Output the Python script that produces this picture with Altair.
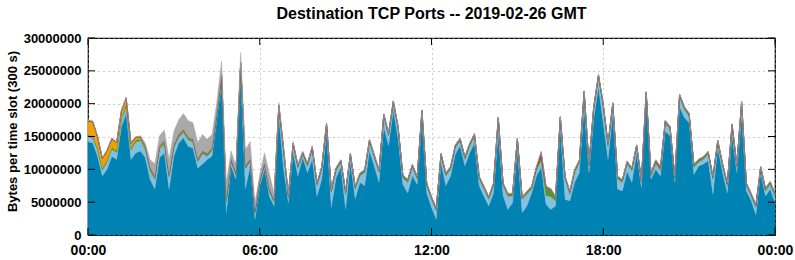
import json
import altair as alt
import pandas as pd

# Values in millions of bytes, one sample every 10 minutes (00:00 .. 24:00)
total = [
    17.5, 17.4, 15.1, 11.8, 13.0, 14.8, 14.2, 19.0, 21.0, 14.1, 15.0, 15.1,
    14.0, 11.5, 10.8, 15.1, 16.0, 11.5, 15.8, 17.5, 18.5, 17.4, 17.1, 14.1,
    15.3, 14.6, 15.3, 20.2, 26.5, 8.0, 12.8, 10.5, 27.8, 13.0, 14.2, 4.9,
    9.2, 12.5, 9.4, 6.4, 20.2, 13.6, 6.4, 14.3, 10.8, 12.8, 11.0, 13.6,
    8.0, 10.5, 17.1, 7.0, 10.3, 11.5, 6.7, 12.5, 7.5, 9.5, 10.0, 14.6,
    12.3, 10.0, 18.5, 15.6, 20.5, 16.6, 9.2, 8.5, 10.8, 9.0, 19.1, 8.0,
    5.9, 4.2, 12.5, 9.5, 10.5, 13.8, 14.8, 12.0, 14.0, 15.5, 9.0, 7.5,
    5.9, 8.0, 18.0, 8.0, 6.4, 6.4, 14.8, 5.9, 6.7, 7.5, 10.5, 12.8,
    7.5, 7.1, 5.9, 18.1, 9.0, 6.7, 10.0, 11.5, 22.0, 11.0, 19.6, 24.5,
    20.0, 14.0, 20.2, 9.0, 8.5, 11.3, 10.3, 13.8, 8.5, 21.9, 9.5, 11.5,
    10.5, 17.5, 16.6, 9.0, 21.5, 19.6, 18.6, 10.8, 11.6, 12.0, 12.8, 9.0,
    14.5, 11.0, 8.0, 17.0, 10.8, 20.4, 8.0, 6.4, 4.7, 10.5, 7.2, 8.2,
    6.4,
]
base = [
    14.2, 14.0, 12.0, 9.0, 10.0, 12.0, 11.5, 16.5, 18.5, 11.5, 12.5, 12.8,
    11.8, 8.5, 7.0, 11.8, 12.5, 7.0, 12.0, 14.0, 14.8, 13.5, 13.2, 10.2,
    10.8, 11.5, 12.0, 17.6, 23.0, 3.4, 10.5, 8.5, 24.2, 7.0, 10.5, 2.4,
    7.5, 10.0, 5.9, 4.4, 18.1, 10.0, 4.9, 12.5, 9.0, 11.8, 9.5, 11.5,
    5.9, 8.5, 15.6, 4.2, 8.7, 10.3, 3.9, 11.0, 5.5, 8.0, 7.5, 12.8,
    10.5, 8.0, 16.5, 13.6, 19.0, 14.6, 7.7, 6.4, 9.0, 7.7, 17.4, 6.4,
    4.2, 2.4, 11.0, 7.5, 9.0, 12.3, 13.6, 10.5, 12.5, 14.0, 7.5, 5.9,
    4.4, 6.4, 15.5, 6.0, 3.9, 4.9, 13.0, 3.4, 4.4, 6.4, 9.0, 10.3,
    4.7, 3.9, 4.4, 16.3, 5.4, 5.2, 8.0, 9.5, 19.5, 9.5, 17.6, 22.5,
    17.0, 11.5, 18.4, 7.0, 6.7, 9.7, 8.0, 12.5, 7.2, 20.2, 8.5, 10.0,
    9.0, 15.8, 15.1, 8.0, 19.5, 17.9, 17.1, 9.2, 10.5, 10.8, 11.3, 6.2,
    13.3, 9.5, 6.4, 15.2, 9.5, 18.0, 6.7, 5.2, 3.1, 9.5, 5.9, 7.0,
    4.9,
]
gray = [
    0.1, 0.1, 0.1, 0.1, 0.1, 0.1, 0.1, 0.1, 0.1, 0.1, 0.1, 0.1,
    0.4, 1.2, 1.8, 1.5, 1.7, 2.2, 2.0, 2.2, 2.4, 2.5, 2.5, 2.5,
    2.5, 2.2, 2.0, 1.6, 2.0, 2.5, 1.2, 1.0, 1.5, 2.5, 2.6, 1.2,
    0.8, 1.5, 2.4, 1.0, 0.4, 0.5, 0.3, 0.3, 0.2, 0.15, 0.15, 0.15,
    0.1, 0.1, 0.1, 0.1, 0.1, 0.1, 0.1, 0.1, 0.1, 0.1, 0.1, 0.1,
    0.1, 0.1, 0.1, 0.1, 0.1, 0.1, 0.1, 0.1, 0.1, 0.1, 0.1, 0.1,
    0.1, 0.1, 0.1, 0.1, 0.1, 0.1, 0.1, 0.1, 0.1, 0.1, 0.1, 0.1,
    0.1, 0.1, 0.1, 0.1, 0.1, 0.1, 0.1, 0.1, 0.1, 0.1, 0.1, 0.15,
    0.1, 0.1, 0.1, 0.1, 0.1, 0.1, 0.1, 0.1, 0.1, 0.1, 0.1, 0.1,
    0.1, 0.1, 0.1, 0.1, 0.1, 0.1, 0.1, 0.1, 0.1, 0.1, 0.1, 0.1,
    0.1, 0.1, 0.1, 0.1, 0.1, 0.1, 0.1, 0.1, 0.1, 0.1, 0.1, 0.1,
    0.1, 0.1, 0.1, 0.1, 0.1, 0.1, 0.1, 0.1, 0.1, 0.1, 0.1, 0.1,
    0.1,
]
orange = [
    2.1, 2.2, 1.7, 1.5, 1.4, 1.3, 1.2, 1.0, 1.0, 0.7, 0.4, 0.3,
    0.2, 0.15, 0.15, 0.15, 0.15, 0.15, 0.15, 0.15, 0.15, 0.1, 0.1, 0.1,
    0.08, 0.08, 0.08, 0.08, 0.08, 0.08, 0.06, 0.06, 0.06, 0.06, 0.06, 0.06,
    0.05, 0.05, 0.05, 0.05, 0.05, 0.05, 0.05, 0.05, 0.05, 0.05, 0.05, 0.05,
    0.05, 0.05, 0.05, 0.05, 0.05, 0.05, 0.05, 0.05, 0.05, 0.05, 0.05, 0.05,
    0.05, 0.05, 0.05, 0.05, 0.05, 0.05, 0.05, 0.05, 0.05, 0.05, 0.05, 0.05,
    0.05, 0.05, 0.05, 0.05, 0.05, 0.05, 0.05, 0.05, 0.05, 0.05, 0.05, 0.05,
    0.05, 0.05, 0.05, 0.05, 0.05, 0.05, 0.05, 0.05, 0.05, 0.05, 0.05, 0.1,
    0.05, 0.05, 0.05, 0.05, 0.05, 0.05, 0.05, 0.05, 0.05, 0.05, 0.05, 0.05,
    0.05, 0.05, 0.05, 0.05, 0.05, 0.05, 0.05, 0.05, 0.05, 0.05, 0.05, 0.05,
    0.05, 0.05, 0.05, 0.05, 0.05, 0.05, 0.05, 0.05, 0.05, 0.05, 0.05, 0.05,
    0.05, 0.05, 0.05, 0.05, 0.05, 0.05, 0.05, 0.05, 0.05, 0.05, 0.05, 0.05,
    0.05,
]
green = [
    0.25, 0.25, 0.25, 0.25, 0.25, 0.25, 0.25, 0.25, 0.25, 0.25, 0.25, 0.25,
    0.25, 0.25, 0.25, 0.25, 0.25, 0.25, 0.25, 0.25, 0.25, 0.25, 0.25, 0.25,
    0.25, 0.25, 0.25, 0.25, 0.25, 0.25, 0.25, 0.25, 0.25, 0.25, 0.25, 0.25,
    0.25, 0.25, 0.25, 0.25, 0.25, 0.25, 0.25, 0.25, 0.25, 0.25, 0.25, 0.25,
    0.25, 0.25, 0.25, 0.25, 0.25, 0.25, 0.25, 0.25, 0.25, 0.25, 0.25, 0.25,
    0.25, 0.25, 0.25, 0.25, 0.25, 0.25, 0.25, 0.25, 0.25, 0.25, 0.25, 0.25,
    0.25, 0.25, 0.25, 0.25, 0.25, 0.25, 0.25, 0.25, 0.25, 0.25, 0.25, 0.25,
    0.25, 0.25, 0.3, 0.25, 0.25, 0.25, 0.25, 0.25, 0.25, 0.25, 0.3, 0.4,
    1.2, 1.0, 0.5, 0.3, 0.25, 0.25, 0.25, 0.25, 0.25, 0.25, 0.25, 0.25,
    0.25, 0.25, 0.25, 0.25, 0.25, 0.25, 0.25, 0.25, 0.25, 0.25, 0.25, 0.25,
    0.25, 0.25, 0.25, 0.25, 0.25, 0.25, 0.25, 0.25, 0.25, 0.25, 0.25, 0.25,
    0.25, 0.25, 0.25, 0.25, 0.25, 0.25, 0.25, 0.25, 0.25, 0.25, 0.25, 0.25,
    0.25,
]
red = [
    0.05, 0.05, 0.05, 0.05, 0.05, 0.05, 0.05, 0.05, 0.05, 0.05, 0.05, 0.05,
    0.05, 0.05, 0.05, 0.05, 0.05, 0.05, 0.05, 0.05, 0.05, 0.05, 0.05, 0.05,
    0.05, 0.05, 0.05, 0.05, 0.05, 0.05, 0.05, 0.05, 0.05, 0.05, 0.05, 0.05,
    0.05, 0.05, 0.05, 0.05, 0.05, 0.05, 0.05, 0.05, 0.05, 0.05, 0.05, 0.05,
    0.05, 0.05, 0.05, 0.05, 0.05, 0.05, 0.05, 0.05, 0.05, 0.05, 0.05, 0.05,
    0.05, 0.05, 0.05, 0.05, 0.05, 0.05, 0.05, 0.05, 0.05, 0.05, 0.05, 0.05,
    0.05, 0.05, 0.05, 0.05, 0.05, 0.05, 0.05, 0.05, 0.05, 0.05, 0.05, 0.05,
    0.05, 0.05, 0.05, 0.05, 0.05, 0.05, 0.05, 0.05, 0.05, 0.05, 0.1, 0.5,
    0.1, 0.05, 0.05, 0.05, 0.05, 0.05, 0.05, 0.05, 0.05, 0.05, 0.05, 0.05,
    0.05, 0.05, 0.05, 0.05, 0.05, 0.05, 0.05, 0.05, 0.05, 0.05, 0.1, 0.2,
    0.2, 0.05, 0.05, 0.05, 0.05, 0.05, 0.05, 0.05, 0.05, 0.05, 0.05, 0.05,
    0.05, 0.05, 0.05, 0.05, 0.05, 0.05, 0.05, 0.05, 0.05, 0.05, 0.05, 0.05,
    0.05,
]
violet = [
    0.02, 0.02, 0.02, 0.02, 0.02, 0.02, 0.02, 0.02, 0.02, 0.02, 0.02, 0.02,
    0.02, 0.02, 0.02, 0.02, 0.02, 0.02, 0.02, 0.02, 0.02, 0.02, 0.02, 0.02,
    0.02, 0.02, 0.02, 0.02, 0.02, 0.02, 0.02, 0.02, 0.02, 0.02, 0.02, 0.02,
    0.02, 0.02, 0.02, 0.02, 0.02, 0.02, 0.02, 0.02, 0.02, 0.02, 0.02, 0.02,
    0.02, 0.02, 0.02, 0.02, 0.02, 0.02, 0.02, 0.02, 0.02, 0.02, 0.02, 0.02,
    0.02, 0.02, 0.02, 0.02, 0.02, 0.02, 0.02, 0.02, 0.02, 0.02, 0.02, 0.02,
    0.02, 0.02, 0.02, 0.02, 0.02, 0.02, 0.02, 0.02, 0.02, 0.02, 0.02, 0.02,
    0.02, 0.02, 0.02, 0.02, 0.02, 0.02, 0.02, 0.02, 0.02, 0.02, 0.05, 0.3,
    0.02, 0.02, 0.02, 0.02, 0.02, 0.02, 0.02, 0.02, 0.02, 0.02, 0.02, 0.02,
    0.02, 0.02, 0.02, 0.02, 0.02, 0.02, 0.02, 0.02, 0.02, 0.02, 0.02, 0.02,
    0.02, 0.02, 0.02, 0.02, 0.02, 0.02, 0.02, 0.02, 0.02, 0.02, 0.02, 0.02,
    0.02, 0.02, 0.02, 0.02, 0.02, 0.02, 0.02, 0.02, 0.02, 0.02, 0.02, 0.02,
    0.02,
]

layer_names = ["p1", "p2", "p3", "p4", "p5", "p6", "other"]   # bottom -> top
fills = ["#0083b3", "#84c0e2", "#55982a", "#f0a000", "#d8301c", "#4055a8", "#a9a9a9"]
strokes = ["#006d96", "#70b0d8", "#4a8a20", "#d08c00", "#b02812", "#34468f", "#a0a0a0"]

title_text = "Destination TCP Ports -- 2019-02-26 GMT"
y_title = "Bytes per time slot (300 s)"
y_ticks = [0, 5000000, 10000000, 15000000, 20000000, 25000000, 30000000]
x_ticks = [0, 6, 12, 18, 24]
x_labels = ["00:00", "06:00", "12:00", "18:00", "00:00"]

rows = []
for i in range(len(total)):
    lb = total[i] - base[i] - gray[i] - orange[i] - green[i] - red[i] - violet[i]
    lb = max(lb, 0.2)
    vals = [base[i], lb, green[i], orange[i], red[i], violet[i], gray[i]]
    for k, (name, v) in enumerate(zip(layer_names, vals)):
        rows.append({"h": i / 6.0, "v": v * 1e6, "layer": name, "ord": k})
df = pd.DataFrame(rows)

FONT = "Liberation Sans Narrow, Arial Narrow, Liberation Sans, sans-serif"
W, H = 687, 197

label_expr = "{0}[indexof({1}, datum.value)]".format(json.dumps(x_labels), json.dumps(x_ticks))

xscale = alt.Scale(domain=[0, 24], nice=False, zero=False)
yscale = alt.Scale(domain=[0, 30000000], nice=False)

x_axis = alt.Axis(values=x_ticks, labelExpr=label_expr, title=None,
                  grid=True, gridDash=[1, 4], gridColor="#9a9a9a", gridWidth=1,
                  ticks=False, domain=False, labelFlush=False, labelPadding=8,
                  labelOverlap=False,
                  labelFont=FONT, labelFontSize=14, labelFontWeight="bold",
                  labelColor="#000000")
y_axis = alt.Axis(values=y_ticks, format="d", title=y_title,
                  titleFont=FONT, titleFontSize=13, titleFontWeight="bold",
                  titleColor="#000000", titleAngle=270, titleX=-76, titleY=93,
                  titleAlign="center", titleBaseline="middle",
                  grid=True, gridDash=[1, 4], gridColor="#9a9a9a", gridWidth=1,
                  ticks=False, domain=False, labelPadding=7,
                  labelOverlap=False, labelFlush=False,
                  labelFont=FONT, labelFontSize=13, labelFontWeight="bold",
                  labelColor="#000000")

areas = alt.Chart(df).mark_area(interpolate="linear", strokeWidth=0.45).encode(
    x=alt.X("h:Q", scale=xscale, axis=x_axis),
    y=alt.Y("v:Q", stack="zero", scale=yscale, axis=y_axis),
    color=alt.Color("layer:N", scale=alt.Scale(domain=layer_names, range=fills), legend=None),
    stroke=alt.Stroke("layer:N", scale=alt.Scale(domain=layer_names, range=strokes), legend=None),
    order=alt.Order("ord:Q", sort="ascending"),
)

ytick_df = pd.DataFrame({"v": y_ticks})
xtick_df = pd.DataFrame({"h": x_ticks})

yt_left = alt.Chart(ytick_df).mark_rule(color="#000000", strokeWidth=1).encode(
    y=alt.Y("v:Q", scale=yscale, axis=y_axis), x=alt.value(0), x2=alt.value(7))
yt_right = alt.Chart(ytick_df).mark_rule(color="#000000", strokeWidth=1).encode(
    y=alt.Y("v:Q", scale=yscale, axis=y_axis), x=alt.value(W - 7), x2=alt.value(W))
xt_top = alt.Chart(xtick_df).mark_rule(color="#000000", strokeWidth=1).encode(
    x=alt.X("h:Q", scale=xscale, axis=x_axis), y=alt.value(0), y2=alt.value(7))
xt_bot = alt.Chart(xtick_df).mark_rule(color="#000000", strokeWidth=1).encode(
    x=alt.X("h:Q", scale=xscale, axis=x_axis), y=alt.value(H - 7), y2=alt.value(H))

title_mark = alt.Chart(pd.DataFrame({"t": [title_text]})).mark_text(
    font=FONT, fontSize=16, fontWeight="bold", color="#000000",
    align="center", baseline="alphabetic",
).encode(text="t:N", x=alt.value(W / 2), y=alt.value(-19))

chart = alt.layer(areas, yt_left, yt_right, xt_top, xt_bot, title_mark).properties(
    width=W, height=H,
    autosize=alt.AutoSizeParams(type="none"),
    padding={"left": 88, "top": 38, "right": 20, "bottom": 25},
    background="#ffffff",
).configure_view(stroke="#000000", strokeWidth=1.2)

chart.save("out.html", embed_options={"renderer": "svg", "actions": False})
